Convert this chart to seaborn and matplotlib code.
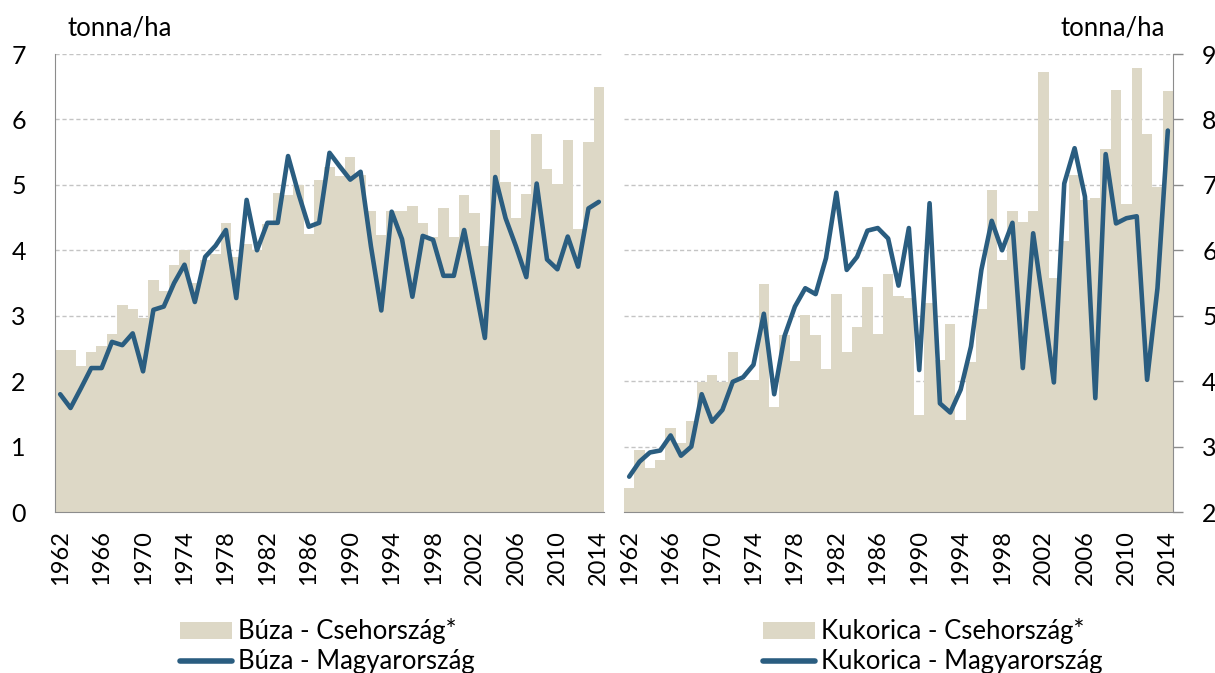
import numpy as np
import pandas as pd
import matplotlib.pyplot as plt
import seaborn as sns
from matplotlib.patches import Patch
from matplotlib.lines import Line2D

years = np.arange(1962, 2015)

# búza (wheat), tonna/ha
buza_cz = [2.47, 2.47, 2.23, 2.44, 2.54, 2.72, 3.17, 3.11, 2.96, 3.54,
           3.38, 3.78, 4.00, 3.50, 3.85, 3.95, 4.42, 3.90, 4.10, 4.00,
           4.40, 4.87, 4.85, 5.00, 4.25, 5.08, 5.28, 5.13, 5.42, 5.15,
           4.60, 4.24, 4.60, 4.60, 4.67, 4.41, 4.21, 4.64, 4.21, 4.85,
           4.57, 4.07, 5.84, 5.05, 4.49, 4.86, 5.77, 5.24, 5.02, 5.69,
           4.32, 5.66, 6.50]
buza_hu = [1.80, 1.59, 1.89, 2.20, 2.20, 2.60, 2.55, 2.73, 2.15, 3.09,
           3.14, 3.50, 3.78, 3.21, 3.90, 4.07, 4.31, 3.27, 4.77, 4.00,
           4.42, 4.42, 5.44, 4.87, 4.36, 4.42, 5.49, 5.28, 5.08, 5.20,
           4.06, 3.08, 4.59, 4.17, 3.29, 4.22, 4.16, 3.61, 3.61, 4.31,
           3.50, 2.66, 5.12, 4.49, 4.06, 3.59, 5.02, 3.86, 3.71, 4.21,
           3.75, 4.64, 4.74]

# kukorica (maize), tonna/ha
kukorica_cz = [2.36, 2.94, 2.67, 2.80, 3.28, 3.05, 3.39, 3.99, 4.10, 3.99,
               4.44, 4.02, 4.02, 5.49, 3.61, 4.71, 4.31, 5.01, 4.70, 4.18,
               5.33, 4.45, 4.82, 5.44, 4.72, 5.64, 5.30, 5.27, 3.48, 5.19,
               4.32, 4.87, 3.41, 4.30, 5.11, 6.92, 5.85, 6.60, 6.43, 6.60,
               8.72, 5.58, 6.14, 7.15, 6.77, 6.80, 7.55, 8.45, 6.71, 8.78,
               7.78, 6.97, 8.43]
kukorica_hu = [2.54, 2.77, 2.91, 2.94, 3.17, 2.86, 3.00, 3.80, 3.38, 3.56,
               3.99, 4.06, 4.25, 5.03, 3.80, 4.69, 5.14, 5.42, 5.33, 5.88,
               6.88, 5.70, 5.90, 6.30, 6.34, 6.18, 5.46, 6.34, 4.17, 6.72,
               3.66, 3.52, 3.87, 4.53, 5.70, 6.45, 6.00, 6.42, 4.20, 6.26,
               5.14, 3.98, 7.02, 7.56, 6.82, 3.74, 7.47, 6.41, 6.49, 6.52,
               4.02, 5.42, 7.83]

BEIGE = '#DDD8C6'
BLUE = '#2A5D80'
GRID = '#C4C4C4'
AXIS = '#8C8C8C'
FS = 18.5
TICK_FS = 17

sns.set_style('white')
plt.rcParams['font.family'] = ['Lato', 'DejaVu Sans']
plt.rcParams['font.size'] = FS
plt.rcParams['text.color'] = 'black'
plt.rcParams['xtick.labelcolor'] = 'black'
plt.rcParams['ytick.labelcolor'] = 'black'

fig = plt.figure(figsize=(12.15, 6.73), dpi=100)
ax1 = fig.add_axes([55 / 1215, 1 - 512 / 673, 549 / 1215, 458 / 673])
ax2 = fig.add_axes([624 / 1215, 1 - 512 / 673, 549 / 1215, 458 / 673])


def draw(ax, cz, hu, lo, hi, right):
    df = pd.DataFrame({'ev': years, 'cz': cz, 'hu': hu})
    sns.barplot(data=df, x='ev', y='cz', native_scale=True, width=1,
                color=BEIGE, saturation=1, linewidth=0, ax=ax)
    sns.lineplot(data=df, x='ev', y='hu', color=BLUE, linewidth=3.3, ax=ax)
    ax.set_xlim(1961.5, 2014.5)
    ax.set_ylim(lo, hi)
    ax.set_yticks(range(lo, hi + 1))
    ax.set_xticks(years[::4])
    ax.set_xticklabels([str(y) for y in years[::4]])
    ax.set_xticks(np.arange(1961.5, 2015), minor=True)
    ax.tick_params(axis='x', which='major', length=0, rotation=90,
                   labelsize=TICK_FS, pad=13)
    ax.tick_params(axis='x', which='minor', length=6, color=AXIS, width=1)
    ax.tick_params(axis='y', length=7, color=AXIS, width=1,
                   labelsize=TICK_FS + 1, pad=14)
    ax.grid(axis='y', color=GRID, linestyle=(0, (3, 2)), linewidth=1)
    ax.grid(axis='x', visible=False)
    ax.set_axisbelow(True)
    ax.set_xlabel('')
    ax.set_ylabel('')
    if right:
        sns.despine(ax=ax, left=True, right=False)
        ax.yaxis.tick_right()
        ax.spines['right'].set_color(AXIS)
    else:
        sns.despine(ax=ax)
        ax.spines['left'].set_color(AXIS)
    ax.spines['bottom'].set_color(AXIS)


draw(ax1, buza_cz, buza_hu, 0, 7, False)
draw(ax2, kukorica_cz, kukorica_hu, 2, 9, True)

fig.text(67 / 1215, 1 - 28 / 673, 'tonna/ha', ha='left', va='center', fontsize=FS)
fig.text(1165 / 1215, 1 - 28 / 673, 'tonna/ha', ha='right', va='center', fontsize=FS)

for x0, name in [(170, 'Búza'), (753, 'Kukorica')]:
    handles = [Patch(facecolor=BEIGE, edgecolor='none'),
               Line2D([], [], color=BLUE, linewidth=4)]
    labels = [f'{name} - Csehország*', f'{name} - Magyarország']
    fig.legend(handles, labels, loc='upper left',
               bbox_to_anchor=(x0 / 1215, 1 - 608 / 673),
               frameon=False, handlelength=2.0, handleheight=0.66,
               handletextpad=0.25, labelspacing=0.2, fontsize=FS,
               borderaxespad=0, borderpad=0.4)

fig.savefig('out.png', dpi=100)
